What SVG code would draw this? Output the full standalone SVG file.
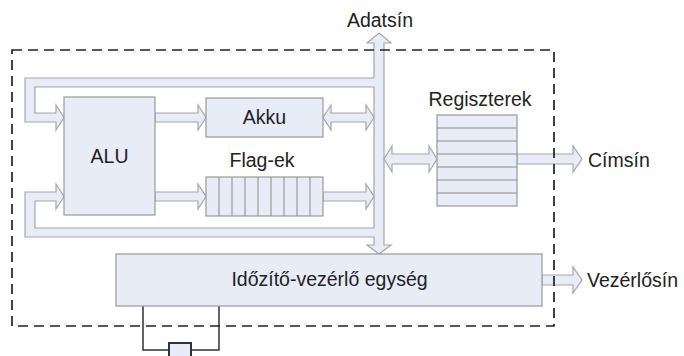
<svg xmlns="http://www.w3.org/2000/svg" width="684" height="356" viewBox="0 0 684 356">
<style>
.box{fill:#e8ecf7;stroke:#9a9a9a;stroke-width:1.2}
.bus{fill:#e8ecf7;stroke:#a6a6ae;stroke-width:1.2;stroke-linejoin:miter}
.cell{stroke:#8a8a8a;stroke-width:1;fill:none}
.lbl{font-family:"Liberation Sans",Arial,sans-serif;font-size:19.5px;fill:#222}
.wire{fill:none;stroke:#333;stroke-width:1.5}
</style>
<rect width="684" height="356" fill="#ffffff"/>
<g id="connectors">
<path class="bus" d="M379,33 L391,43 L384,43 L384,245 L391,245 L379,254 L367,245 L374,245 L374,237 L25,237 L25,192 L56,192 L56,184 L64,196.5 L56,209 L56,201 L35,201 L35,228 L374,228 L374,87 L35,87 L35,113 L56,113 L56,105 L64,117.5 L56,130 L56,122 L25,122 L25,78 L374,78 L374,43 L367,43 Z"/>
<path class="bus" d="M155,113 H198 V105 L206,117.5 L198,130 V122 H155 Z"/>
<path class="bus" d="M323,117.5 L331,105 V113 H366 V105 L374,117.5 L366,130 V122 H331 V130 Z"/>
<path class="bus" d="M155,192 H198 V184 L206,196.5 L198,209 V201 H155 Z"/>
<path class="bus" d="M323,192 H366 V184 L374,196.5 L366,209 V201 H323 Z"/>
<path class="bus" d="M384,159 L392,146 V154 H429 V146 L437,159 L429,172 V164 H392 V172 Z"/>
<path class="bus" d="M517,154 H573 V146 L582,159 L573,172 V164 H517 Z"/>
<path class="bus" d="M542,275 H573 V267 L582,280 L573,293 V285 H542 Z"/>
<path class="wire" d="M143,306 V350 H169 M191,350 H219 V306"/>
</g>
<g id="alu">
<rect class="box" x="64" y="97" width="91" height="118"/>
<text class="lbl" x="109.5" y="163" text-anchor="middle">ALU</text>
</g>
<g id="akku">
<rect class="box" x="206" y="98" width="117" height="39"/>
<text class="lbl" x="264.5" y="124" text-anchor="middle">Akku</text>
</g>
<g id="flagek">
<rect class="box" x="206" y="177" width="117" height="39"/>
<path class="cell" d="M219,177V216M232,177V216M245,177V216M258,177V216M271,177V216M284,177V216M297,177V216M310,177V216"/>
<text class="lbl" x="262" y="167" text-anchor="middle">Flag-ek</text>
</g>
<g id="regiszterek">
<rect class="box" x="437" y="115" width="80" height="91"/>
<path class="cell" d="M437,128H517M437,141H517M437,154H517M437,167H517M437,180H517M437,193H517"/>
<text class="lbl" x="480" y="106" text-anchor="middle">Regiszterek</text>
</g>
<g id="idozito">
<rect class="box" x="116" y="254" width="426" height="52"/>
<text class="lbl" x="329.5" y="286" text-anchor="middle">Időzítő-vezérlő egység</text>
</g>
<g id="kvarc">
<rect x="169" y="343" width="22" height="16" fill="#e8ecf7" stroke="#333" stroke-width="2"/>
</g>
<rect id="cpu" x="12" y="50" width="542" height="276" fill="none" stroke="#222" stroke-width="1.7" stroke-dasharray="10,6"/>
<g id="labels">
<text class="lbl" x="380" y="27" text-anchor="middle">Adatsín</text>
<text class="lbl" x="588" y="167">Címsín</text>
<text class="lbl" x="587" y="287">Vezérlősín</text>
</g>
</svg>
